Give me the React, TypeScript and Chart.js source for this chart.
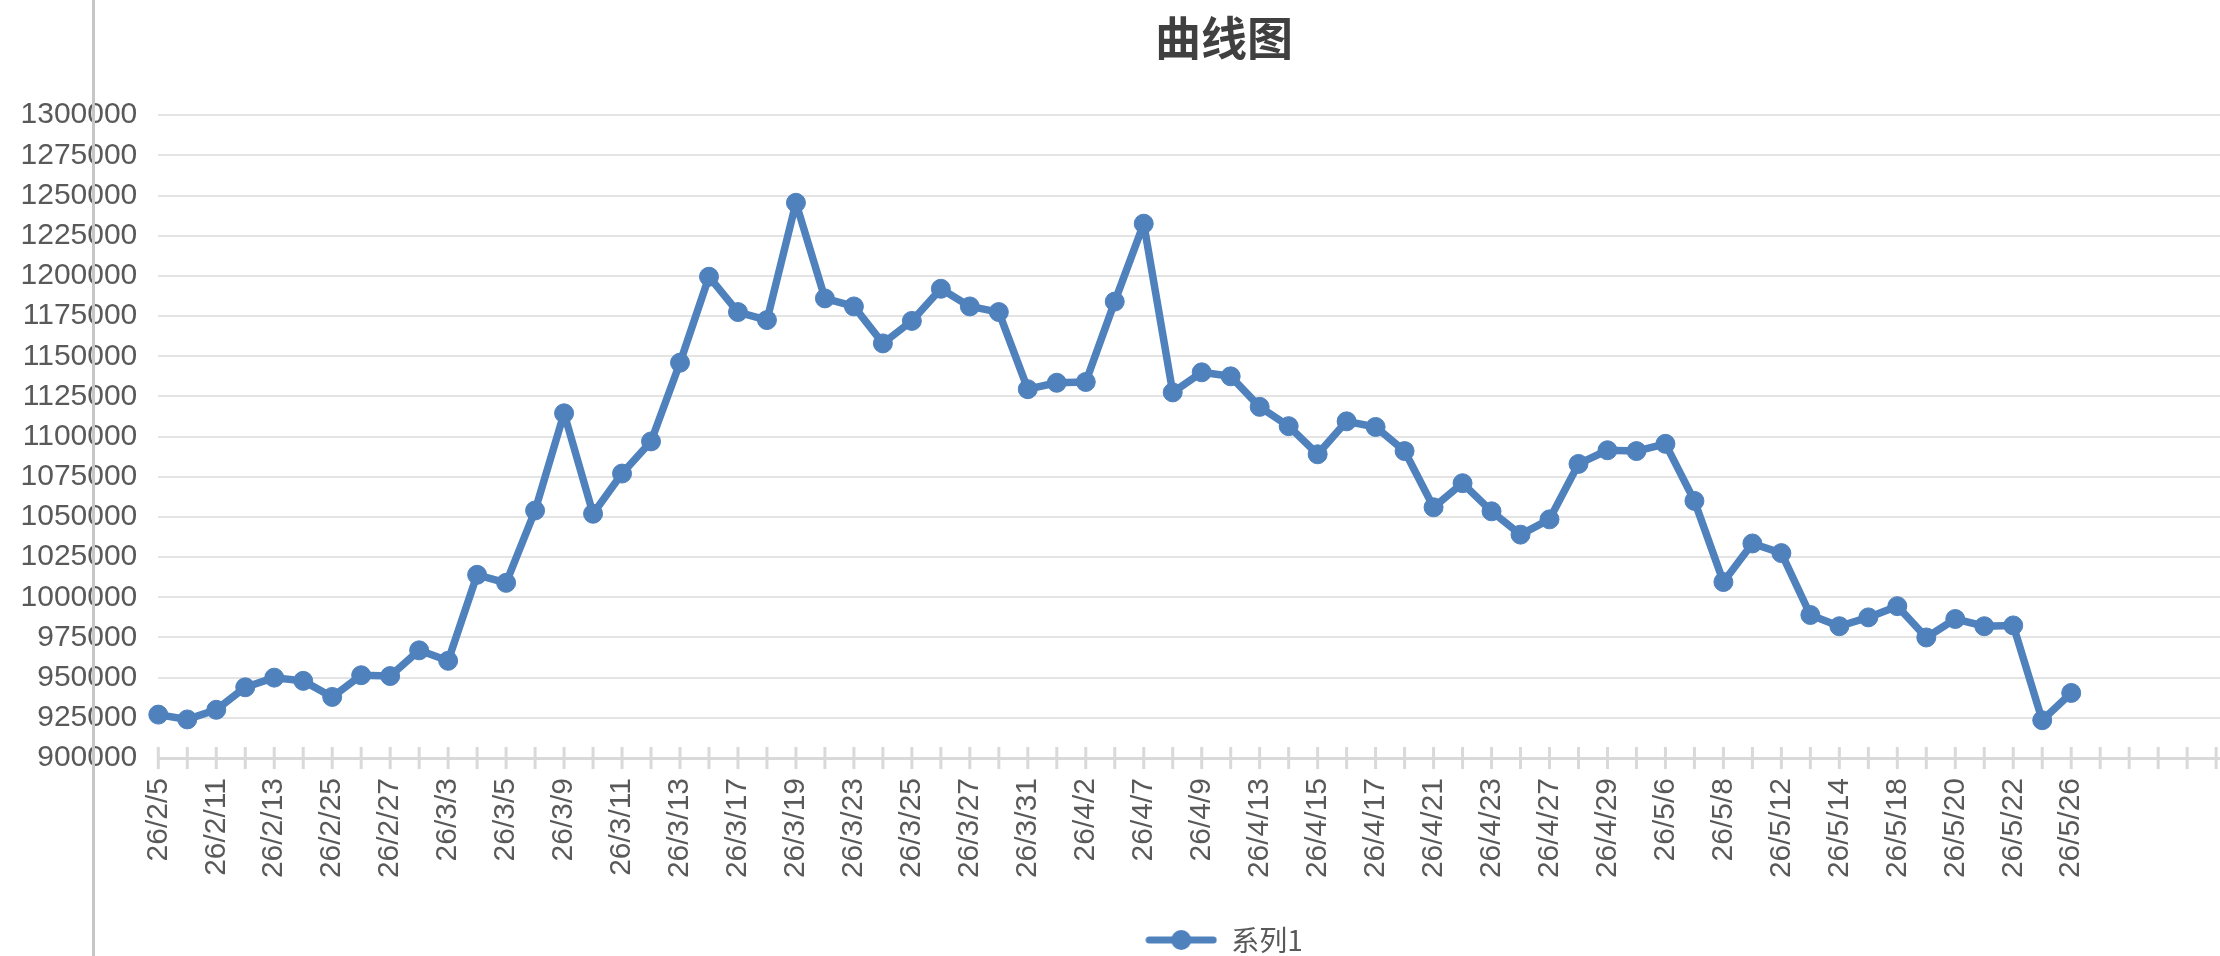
import { useEffect, useRef } from "react";
import { Chart, registerables } from "chart.js";

Chart.register(...registerables);

const titleText = "曲线图";
const seriesName = "系列1";

// trading days; only every other one is labelled on the axis
const dates = [
  "26/2/5", "26/2/10", "26/2/11", "26/2/12", "26/2/13", "26/2/24", "26/2/25", "26/2/26", "26/2/27",
  "26/3/2", "26/3/3", "26/3/4", "26/3/5", "26/3/6", "26/3/9", "26/3/10", "26/3/11", "26/3/12",
  "26/3/13", "26/3/16", "26/3/17", "26/3/18", "26/3/19", "26/3/20", "26/3/23", "26/3/24", "26/3/25",
  "26/3/26", "26/3/27", "26/3/30", "26/3/31", "26/4/1", "26/4/2", "26/4/3", "26/4/7", "26/4/8",
  "26/4/9", "26/4/10", "26/4/13", "26/4/14", "26/4/15", "26/4/16", "26/4/17", "26/4/20", "26/4/21",
  "26/4/22", "26/4/23", "26/4/24", "26/4/27", "26/4/28", "26/4/29", "26/4/30", "26/5/6", "26/5/7",
  "26/5/8", "26/5/11", "26/5/12", "26/5/13", "26/5/14", "26/5/15", "26/5/18", "26/5/19", "26/5/20",
  "26/5/21", "26/5/22", "26/5/25", "26/5/26",
];

// empty rows after the data that still get a category slot
const blankRows = ["", "", "", "", "", "", "", "", "", "", "", "", ""];

const values = [
  927000, 924000, 930000, 944000, 950000, 948000, 938000, 951500, 951000,
  967000, 960500, 1014000, 1009000, 1054000, 1114500, 1052000, 1077000, 1097000,
  1146000, 1199500, 1177500, 1172500, 1245500, 1186000, 1181000, 1158000, 1172000,
  1192000, 1181000, 1177500, 1129500, 1133500, 1134000, 1184000, 1232500, 1127500,
  1140000, 1137500, 1118500, 1106500, 1089000, 1109500, 1106000, 1091000, 1056000,
  1071000, 1053500, 1039000, 1048500, 1083000, 1091500, 1091000, 1095500, 1060000,
  1009500, 1033500, 1027500, 989000, 982000, 987500, 994500, 975000, 986500,
  982000, 982500, 923500, 940500,
];

const yMin = 900000;
const yMax = 1300000;
const yStep = 25000;

const BLUE = "#4f81bd";
const AXIS = "#d9d9d9";
const GRID = "#e4e4e4";
const TEXT = "#595959";

// little ticks that cross the category axis, like excel draws them
const crossTicks = {
  id: "crossTicks",
  beforeDatasetsDraw(chart: any) {
    const x = chart.scales.x;
    const y = chart.scales.y.getPixelForValue(yMin);
    const ctx = chart.ctx;
    ctx.save();
    ctx.strokeStyle = AXIS;
    ctx.lineWidth = 3;
    ctx.beginPath();
    for (let i = 0; i < x.ticks.length; i++) {
      const px = x.getPixelForTick(i);
      ctx.moveTo(px, y - 11);
      ctx.lineTo(px, y + 11);
    }
    ctx.stroke();
    ctx.restore();
  },
};

function legendMarker() {
  const c = document.createElement("canvas");
  c.width = 72;
  c.height = 22;
  const g = c.getContext("2d")!;
  g.strokeStyle = BLUE;
  g.lineWidth = 7;
  g.lineCap = "round";
  g.beginPath();
  g.moveTo(4, 11);
  g.lineTo(68, 11);
  g.stroke();
  g.fillStyle = BLUE;
  g.beginPath();
  g.arc(36, 11, 10, 0, Math.PI * 2);
  g.fill();
  return c;
}

export default function App() {
  const canvasRef = useRef<HTMLCanvasElement>(null);

  useEffect(() => {
    if (!canvasRef.current) return;
    const labels = [...dates, ...blankRows];
    const marker = legendMarker();

    const chart = new Chart(canvasRef.current, {
      type: "line",
      data: {
        labels,
        datasets: [
          {
            label: seriesName,
            data: values,
            borderColor: BLUE,
            backgroundColor: BLUE,
            borderWidth: 7.5,
            borderJoinStyle: "round",
            borderCapStyle: "round",
            pointRadius: 9.5,
            pointBorderWidth: 1,
            pointBackgroundColor: BLUE,
            pointBorderColor: BLUE,
            tension: 0,
          },
        ],
      },
      options: {
        responsive: false,
        animation: false,
        devicePixelRatio: 1,
        // the right padding sits outside the visible page, it keeps the title centred
        layout: { padding: { left: 0, right: 80, top: 0, bottom: 0 } },
        plugins: {
          title: {
            display: true,
            text: titleText,
            color: "#404040",
            font: { family: "'Noto Sans CJK SC', 'Liberation Sans'", size: 46, weight: "bold" },
            padding: { top: 10, bottom: 50 },
          },
          legend: {
            position: "bottom",
            labels: {
              usePointStyle: true,
              pointStyleWidth: 72,
              color: TEXT,
              font: { family: "'Noto Sans CJK SC', 'Liberation Sans'", size: 28 },
              generateLabels: () => [
                {
                  text: seriesName,
                  pointStyle: marker as any,
                  fillStyle: BLUE,
                  strokeStyle: BLUE,
                  lineWidth: 0,
                  hidden: false,
                  datasetIndex: 0,
                  fontColor: TEXT,
                },
              ],
            },
          },
          tooltip: { enabled: false },
        },
        scales: {
          x: {
            type: "category",
            offset: false,
            afterFit: (s: any) => {
              s.height = 158;
            },
            grid: { display: false, drawTicks: false },
            border: { display: true, color: AXIS, width: 3 },
            ticks: {
              autoSkip: false,
              maxRotation: 90,
              minRotation: 90,
              padding: 20,
              color: TEXT,
              font: { family: "'Liberation Sans'", size: 30 },
              callback: (_v: any, i: number) => (i % 2 === 0 ? labels[i] : ""),
            },
          },
          y: {
            min: yMin,
            max: yMax,
            afterFit: (s: any) => {
              s.width = 158.3;
            },
            grid: {
              drawTicks: false,
              color: (c: any) => (c.tick && c.tick.value === yMin ? AXIS : GRID),
              lineWidth: (c: any) => (c.tick && c.tick.value === yMin ? 3 : 2),
            },
            border: { display: false },
            ticks: {
              stepSize: yStep,
              padding: 21,
              color: TEXT,
              font: { family: "'Liberation Sans'", size: 30 },
              callback: (v: any) => String(v),
            },
          },
        },
      },
      plugins: [crossTicks],
    });

    return () => chart.destroy();
  }, []);

  return (
    <div
      style={{
        position: "fixed",
        left: 0,
        top: 0,
        width: "100vw",
        height: "100vh",
        overflow: "hidden",
        background: "#fff",
      }}
    >
      <canvas
        ref={canvasRef}
        width={2528}
        height={964}
        style={{ position: "absolute", left: 0, top: 0, width: 2528, height: 964 }}
      ></canvas>
      <div
        style={{
          position: "absolute",
          left: 92,
          top: 0,
          width: 3,
          height: "100%",
          background: "#c6c6c6",
        }}
      ></div>
    </div>
  );
}
